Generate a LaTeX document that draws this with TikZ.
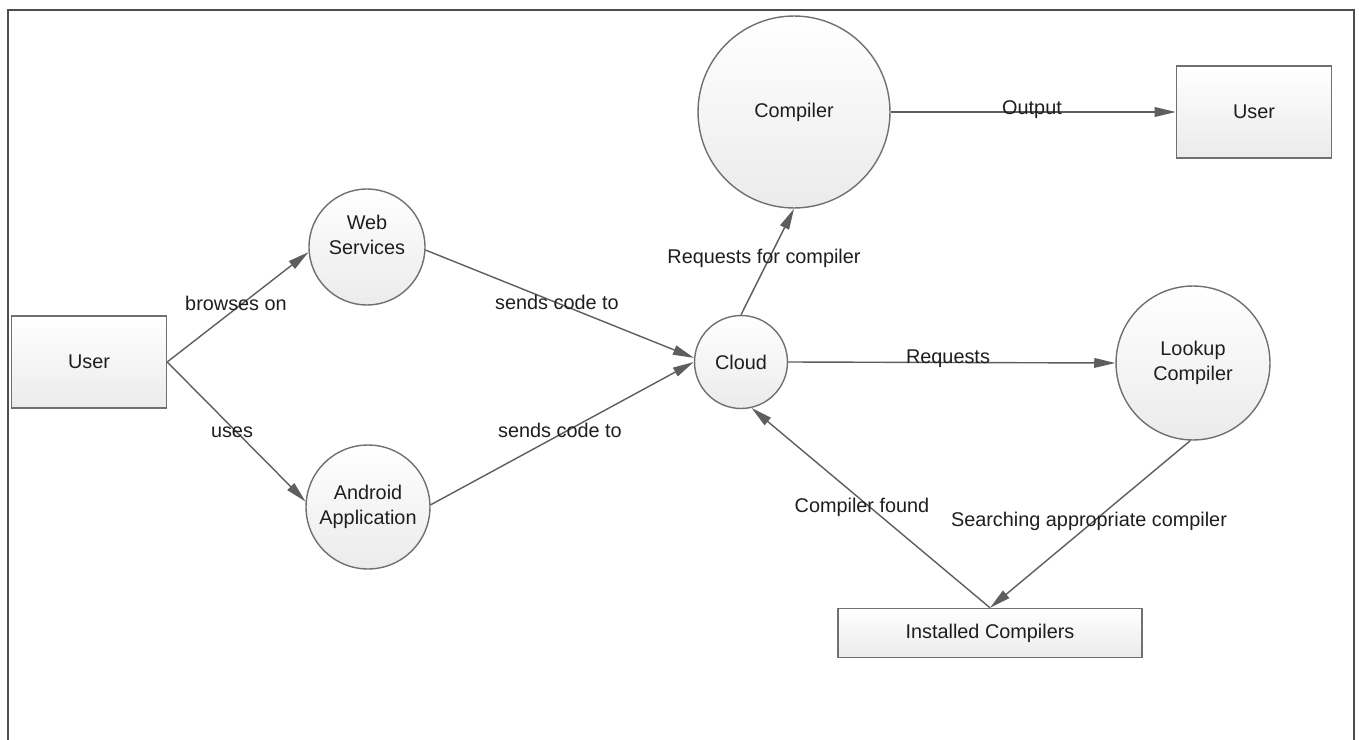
\documentclass[tikz,border=0pt]{standalone}
\usepackage{fontspec}
\setmainfont{Liberation Sans}
\usepackage{tikz}
\usetikzlibrary{arrows.meta,positioning,shapes}

\definecolor{framegray}{HTML}{4D4D4D}
\definecolor{linegray}{HTML}{5E5E5E}
\definecolor{bordergray}{HTML}{707070}
\definecolor{fillgray}{HTML}{EBEBEB}
\definecolor{textdark}{HTML}{1E1E1E}

\begin{document}
\begin{tikzpicture}[x=0.02cm, y=-0.02cm,
    every node/.style={font=\fontsize{11.3}{14.2}\selectfont, text=textdark},
    entity/.style={draw=bordergray, line width=0.8pt, top color=white, bottom color=fillgray,
      minimum width=3.1cm, minimum height=1.84cm, inner sep=0pt},
    process/.style={circle, draw=bordergray, line width=0.8pt, top color=white, bottom color=fillgray,
      inner sep=0pt, align=center},
    flow/.style={draw=linegray, line width=0.8pt, -{Triangle[length=12pt,width=5.5pt]}},
    lbl/.style={inner sep=1pt}]
      \useasboundingbox (0,0) rectangle (1359,740);
      % frame
      \draw[framegray, line width=1.2pt] (8,10) rectangle (1354,780);
      % nodes
      \node[entity] (user) at (89,362) {User};
      \node[process, minimum size=2.32cm] (web) at (367,247) {Web\\Services\\~};
      \node[process, minimum size=2.48cm] (android) at (368,507) {Android\\Application};
      \node[process, minimum size=1.86cm] (cloud) at (741,362) {Cloud};
      \node[process, minimum size=3.84cm] (compiler) at (794,112) {Compiler};
      \node[entity] (output) at (1254,112) {User};
      \node[process, minimum size=3.08cm] (lookup) at (1193,363) {Lookup\\Compiler};
      \node[entity, minimum width=6.08cm, minimum height=0.98cm] (installed) at (990,633) {Installed Compilers};
      % edges
      \draw[flow] (user.east) -- (web.185) node[lbl] (browses) at (236,303) {browses on};
      \draw[flow] (user.east) -- (android.175) node[lbl] (uses) at (232,432) {uses};
      \draw[flow] (web.-3) -- (cloud.175) node[lbl] (sendsa) at (557,302) {sends code to};
      \draw[flow] (android.2) -- (cloud.west) node[lbl] (sendsb) at (560,430) {sends code to};
      \draw[flow] (cloud.north) -- (compiler.south) node[lbl] (reqcomp) at (764,258) {Requests for compiler};
      \draw[flow] (compiler.east) -- (output.west) node[lbl] (out) at (1032,110) {Output};
      \draw[flow] (cloud.east) -- (lookup.west) node[lbl] (req) at (948,359) {Requests};
      \draw[flow] (lookup.-92) -- (installed.north) node[lbl] (search) at (1089,521) {Searching appropriate compiler};
      \draw[flow] (installed.north) -- (cloud.-77) node[lbl] (found) at (862,507) {Compiler found};
\end{tikzpicture}
\end{document}
